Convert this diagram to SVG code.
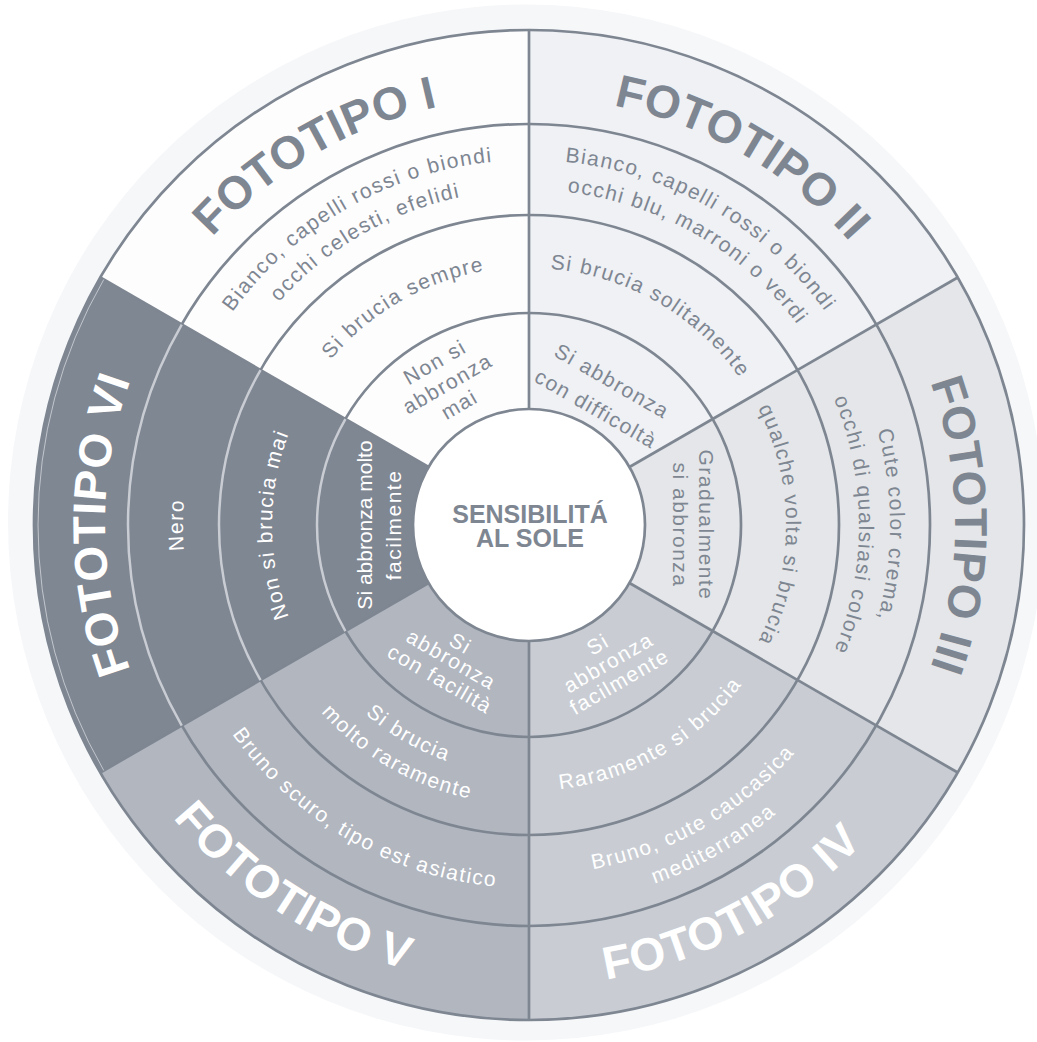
<svg xmlns="http://www.w3.org/2000/svg" width="1037" height="1042" viewBox="0 0 1037 1042">
<style>
.ln{fill:none;stroke:#7e8692;stroke-width:2.7}
.lt{fill:none;stroke:#c9cdd3;stroke-width:2.5}
.t{font-family:"Liberation Sans",Arial,Helvetica,sans-serif;font-size:21px;letter-spacing:1.5px}
.h{font-family:"Liberation Sans",Arial,Helvetica,sans-serif;font-size:46px;font-weight:bold;letter-spacing:0.5px}
.c{font-family:"Liberation Sans",Arial,Helvetica,sans-serif;font-size:25px;font-weight:bold;fill:#7e8692}
.g{fill:#7e8692}
.w{fill:#ffffff}
</style>
<defs>
<path id="pI3" d="M279.79,458.22 A258,258 0 0 1 595.78,275.79"/>
<path id="pI4a" d="M176.44,430.53 A365,365 0 0 1 623.47,172.44"/>
<path id="pI4b" d="M205.41,438.30 A335,335 0 0 1 615.70,201.41"/>
<path id="pI5" d="M115.58,414.23 A428,428 0 0 1 639.77,111.58"/>
<path id="pII3" d="M462.48,276.76 A257,257 0 0 1 777.24,458.48"/>
<path id="pII4a" d="M434.53,172.44 A365,365 0 0 1 881.56,430.53"/>
<path id="pII4b" d="M442.30,201.41 A335,335 0 0 1 852.59,438.30"/>
<path id="pII5" d="M418.23,111.58 A428,428 0 0 1 942.42,414.23"/>
<path id="pIII3" d="M710.73,343.27 A257,257 0 0 1 710.73,706.73"/>
<path id="pIII4a" d="M784.27,269.73 A361,361 0 0 1 784.27,780.27"/>
<path id="pIII4b" d="M762.35,291.65 A330,330 0 0 1 762.35,758.35"/>
<path id="pIII5" d="M830.23,223.77 A426,426 0 0 1 830.23,826.23"/>
<path id="pIV3" d="M460.15,781.94 A266,266 0 0 0 785.94,593.85"/>
<path id="pIV4a" d="M438.41,863.07 A350,350 0 0 0 867.07,615.59"/>
<path id="pIV4b" d="M430.65,892.05 A380,380 0 0 0 896.05,623.35"/>
<path id="pIV5" d="M409.68,970.29 A461,461 0 0 0 974.29,644.32"/>
<path id="pV3a" d="M287.52,589.70 A250,250 0 0 0 593.70,766.48"/>
<path id="pV3b" d="M258.54,597.47 A280,280 0 0 0 601.47,795.46"/>
<path id="pV4" d="M178.37,618.95 A363,363 0 0 0 622.95,875.63"/>
<path id="pV5" d="M83.71,644.32 A461,461 0 0 0 648.32,970.29"/>
<path id="pVI3" d="M347.27,706.73 A257,257 0 0 1 347.27,343.27"/>
<path id="pVI4" d="M284.34,769.66 A346,346 0 0 1 284.34,280.34"/>
<path id="pVI5" d="M229.19,824.81 A424,424 0 0 1 229.19,225.19"/>
</defs>
<rect width="1037" height="1042" fill="#ffffff"/>
<circle id="halo" cx="526" cy="522.5" r="518" fill="#f6f7f9"/>

<g id="fototipo-1">
<path d="M529,525 L100.32,277.5 A495,495 0 0 1 529,30 Z" fill="#fdfdfd"/>
</g>
<g id="fototipo-2">
<path d="M529,525 L529,30 A495,495 0 0 1 957.68,277.5 Z" fill="#eff1f4"/>
</g>
<g id="fototipo-3">
<path d="M529,525 L957.68,277.5 A495,495 0 0 1 957.68,772.5 Z" fill="#e4e6e9"/>
</g>
<g id="fototipo-4">
<path d="M529,525 L957.68,772.5 A495,495 0 0 1 529,1020 Z" fill="#c9cdd3"/>
</g>
<g id="fototipo-5">
<path d="M529,525 L529,1020 A495,495 0 0 1 100.32,772.5 Z" fill="#b1b6bf"/>
</g>
<g id="fototipo-6">
<path d="M529,525 L100.32,772.5 A495,495 0 0 1 100.32,277.5 Z" fill="#7f8793"/>
</g>

<g id="connectors">
<circle class="ln" cx="529" cy="525" r="212"/>
<circle class="ln" cx="529" cy="525" r="310"/>
<circle class="ln" cx="529" cy="525" r="401"/>
<circle class="ln" cx="529" cy="525" r="495" stroke-width="3"/>
<line class="ln" x1="529" y1="409" x2="529" y2="30"/>
<line class="ln" x1="629.46" y1="467" x2="957.68" y2="277.5"/>
<line class="ln" x1="629.46" y1="583" x2="957.68" y2="772.5"/>
<line class="ln" x1="529" y1="641" x2="529" y2="1020"/>
<line class="ln" x1="428.54" y1="583" x2="100.32" y2="772.5"/>
<line class="ln" x1="428.54" y1="467" x2="100.32" y2="277.5"/>
<path class="lt" d="M345.40,631 A212,212 0 0 1 345.40,419"/>
<path class="lt" d="M260.53,680 A310,310 0 0 1 260.53,370"/>
<path class="lt" d="M181.72,725.5 A401,401 0 0 1 181.72,324.5"/>
<path d="M103.79,770.5 A491,491 0 0 1 103.79,279.5" fill="none" stroke="#c9cdd3" stroke-width="0.9"/>
</g>

<g id="text-fototipo-1" text-anchor="middle">
<text class="h g"><textPath href="#pI5" startOffset="50%">FOTOTIPO I</textPath></text>
<text class="t g"><textPath href="#pI4a" startOffset="50%">Bianco, capelli rossi o biondi</textPath></text>
<text class="t g"><textPath href="#pI4b" startOffset="50%">occhi celesti, efelidi</textPath></text>
<text class="t g"><textPath href="#pI3" startOffset="50%">Si brucia sempre</textPath></text>
<text class="t g" transform="translate(438.5,368.25) rotate(-30)">Non si</text>
<text class="t g" transform="translate(451,389.9) rotate(-30)">abbronza</text>
<text class="t g" transform="translate(463,410.68) rotate(-30)">mai</text>
</g>
<g id="text-fototipo-2" text-anchor="middle">
<text class="h g"><textPath href="#pII5" startOffset="50%">FOTOTIPO II</textPath></text>
<text class="t g"><textPath href="#pII4a" startOffset="50%">Bianco, capelli rossi o biondi</textPath></text>
<text class="t g"><textPath href="#pII4b" startOffset="50%">occhi blu, marroni o verdi</textPath></text>
<text class="t g"><textPath href="#pII3" startOffset="50%">Si brucia solitamente</textPath></text>
<text class="t g" transform="translate(608.5,387.3) rotate(30)">Si abbronza</text>
<text class="t g" transform="translate(592.5,415.02) rotate(30)">con difficoltà</text>
</g>
<g id="text-fototipo-3" text-anchor="middle">
<text class="h g"><textPath href="#pIII5" startOffset="50%">FOTOTIPO III</textPath></text>
<text class="t g"><textPath href="#pIII4a" startOffset="50%">Cute color crema,</textPath></text>
<text class="t g"><textPath href="#pIII4b" startOffset="50%">occhi di qualsiasi colore</textPath></text>
<text class="t g"><textPath href="#pIII3" startOffset="50%">qualche volta si brucia</textPath></text>
<text class="t g" transform="translate(699,525) rotate(90)">Gradualmente</text>
<text class="t g" transform="translate(673,525) rotate(90)">si abbronza</text>
</g>
<g id="text-fototipo-4" text-anchor="middle">
<text class="h w"><textPath href="#pIV5" startOffset="47.8%">FOTOTIPO IV</textPath></text>
<text class="t w"><textPath href="#pIV4a" startOffset="50%">Bruno, cute caucasica</textPath></text>
<text class="t w"><textPath href="#pIV4b" startOffset="50%">mediterranea</textPath></text>
<text class="t w"><textPath href="#pIV3" startOffset="50%">Raramente si brucia</textPath></text>
<text class="t w" transform="translate(601.5,650.57) rotate(-30)">Si</text>
<text class="t w" transform="translate(612,668.76) rotate(-30)">abbronza</text>
<text class="t w" transform="translate(623,687.81) rotate(-30)">facilmente</text>
</g>
<g id="text-fototipo-5" text-anchor="middle">
<text class="h w"><textPath href="#pV5" startOffset="46.7%">FOTOTIPO V</textPath></text>
<text class="t w"><textPath href="#pV4" startOffset="50%">Bruno scuro, tipo est asiatico</textPath></text>
<text class="t w"><textPath href="#pV3a" startOffset="50%">Si brucia</textPath></text>
<text class="t w"><textPath href="#pV3b" startOffset="50%">molto raramente</textPath></text>
<text class="t w" transform="translate(457,649.71) rotate(30)">Si</text>
<text class="t w" transform="translate(447.75,665.73) rotate(30)">abbronza</text>
<text class="t w" transform="translate(436.5,685.21) rotate(30)">con facilità</text>
</g>
<g id="text-fototipo-6" text-anchor="middle">
<text class="h w"><textPath href="#pVI5" startOffset="50%">FOTOTIPO VI</textPath></text>
<text class="t w"><textPath href="#pVI4" startOffset="50%">Nero</textPath></text>
<text class="t w"><textPath href="#pVI3" startOffset="50%">Non si brucia mai</textPath></text>
<text class="t w" style="letter-spacing:0" transform="translate(372,525) rotate(-90)">Si abbronza molto</text>
<text class="t w" transform="translate(401,525) rotate(-90)">facilmente</text>
</g>

<g id="center">
<circle cx="529" cy="525" r="116" fill="#ffffff" stroke="#7e8692" stroke-width="2.7"/>
<text class="c" x="530" y="523" text-anchor="middle">SENSIBILITÁ</text>
<text class="c" x="530" y="547" text-anchor="middle">AL SOLE</text>
</g>
</svg>
